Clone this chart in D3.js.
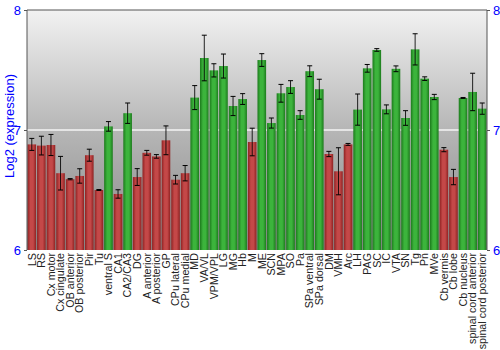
<!DOCTYPE html>
<html>
<head>
<meta charset="utf-8">
<script src="https://cdn.jsdelivr.net/npm/d3@7"></script>
<style>
  html, body { margin: 0; padding: 0; background: #fff; }
  svg { display: block; font-family: "Liberation Sans", Arial, sans-serif; }
</style>
</head>
<body>
<svg id="chart" width="500" height="350"></svg>
<script>
// Brain regions, mean log2 expression and error (± half-range)
const regions = ["LS", "RS", "Cx motor", "Cx cingulate", "OB anterior", "OB posterior", "Pir", "Tu",
  "ventral S", "CA1", "CA2/CA3", "DG", "A anterior", "A posterior", "GP", "CPu lateral", "CPu medial",
  "MD", "VA/VL", "VPM/VPL", "LG", "MG", "Hb", "M", "ME", "SCN", "MPA", "SO", "Pa", "SPa ventral",
  "SPa dorsal", "DM", "VMH", "Arc", "LH", "PAG", "SC", "IC", "VTA", "SN", "Tg", "Pn", "MVe",
  "Cb vermis", "Cb lobe", "Cb nucleus", "spinal cord anterior", "spinal cord posterior"];

const expression = [6.88, 6.87, 6.875, 6.64, 6.59, 6.617, 6.79, 6.50,
  7.03, 6.467, 7.14, 6.608, 6.81, 6.78, 6.914, 6.586, 6.64,
  7.27, 7.60, 7.497, 7.533, 7.20, 7.258, 6.90, 7.583, 7.058, 7.306, 7.358, 7.125, 7.49,
  7.34, 6.80, 6.656, 6.88, 7.17, 7.514, 7.667, 7.172, 7.51, 7.10, 7.672, 7.428, 7.275,
  6.836, 6.608, 7.267, 7.317, 7.178];

const errors = [0.05, 0.078, 0.088, 0.14, 0.005, 0.06, 0.05, 0.004,
  0.04, 0.035, 0.085, 0.07, 0.02, 0.015, 0.12, 0.036, 0.064,
  0.10, 0.19, 0.055, 0.10, 0.08, 0.045, 0.115, 0.053, 0.042, 0.074, 0.053, 0.036, 0.045,
  0.083, 0.022, 0.196, 0.008, 0.13, 0.032, 0.011, 0.037, 0.024, 0.061, 0.13, 0.015, 0.022,
  0.017, 0.064, 0.004, 0.156, 0.047];

const yTicks = [6, 7, 8];
const threshold = 7;

const svg = d3.select("#chart");
const mLeft = 27, mRight = 487, mTop = 10, mBottom = 250;

const x = d3.scaleBand().domain(regions).range([mLeft, mRight]).paddingInner(0.1).paddingOuter(0.05);
const y = d3.scaleLinear().domain([6, 8]).range([mBottom, mTop]);

const defs = svg.append("defs");
const bg = defs.append("linearGradient").attr("id", "bg").attr("x1", 0).attr("y1", 0).attr("x2", 0).attr("y2", 1);
bg.append("stop").attr("offset", "0%").attr("stop-color", "#f2f2f2");
bg.append("stop").attr("offset", "50%").attr("stop-color", "#b6b6b6");
bg.append("stop").attr("offset", "100%").attr("stop-color", "#888888");

function barGradient(id, dark, light) {
  const g = defs.append("linearGradient").attr("id", id).attr("x1", 0).attr("y1", 0).attr("x2", 1).attr("y2", 0);
  g.append("stop").attr("offset", "0%").attr("stop-color", dark);
  g.append("stop").attr("offset", "35%").attr("stop-color", light);
  g.append("stop").attr("offset", "65%").attr("stop-color", light);
  g.append("stop").attr("offset", "100%").attr("stop-color", dark);
}
barGradient("gRed", "#8e2222", "#c44848");
barGradient("gGreen", "#1c7a1c", "#3cb43c");

// plot background
svg.append("rect").attr("x", mLeft).attr("y", mTop).attr("width", mRight - mLeft).attr("height", mBottom - mTop)
  .attr("fill", "url(#bg)");

// reference line at 7
svg.append("line").attr("x1", mLeft).attr("x2", mRight).attr("y1", y(7)).attr("y2", y(7))
  .attr("stroke", "#f4f4f4").attr("stroke-width", 1.5);

// bars
const data = regions.map((r, i) => ({ r, v: expression[i], e: errors[i] }));
svg.append("g").selectAll("rect").data(data).join("rect")
  .attr("x", d => x(d.r))
  .attr("width", x.bandwidth())
  .attr("y", d => y(d.v))
  .attr("height", d => y(6) - y(d.v))
  .attr("fill", d => d.v >= threshold ? "url(#gGreen)" : "url(#gRed)");

// error bars
const eb = svg.append("g").attr("stroke", "#000").attr("stroke-width", 1);
data.forEach(d => {
  const cx = x(d.r) + x.bandwidth() / 2;
  const y1 = y(d.v + d.e), y2 = y(d.v - d.e);
  eb.append("line").attr("x1", cx).attr("x2", cx).attr("y1", y1).attr("y2", y2).attr("stroke-opacity", 0.85);
  eb.append("line").attr("x1", cx - 2.5).attr("x2", cx + 2.5).attr("y1", y1).attr("y2", y1);
  eb.append("line").attr("x1", cx - 2.5).attr("x2", cx + 2.5).attr("y1", y2).attr("y2", y2);
});

// frame
svg.append("path")
  .attr("d", `M${mLeft},${mBottom}V${mTop}H${mRight}V${mBottom}`)
  .attr("fill", "none").attr("stroke", "#555").attr("stroke-width", 1);

// y axes (left and right)
const yl = svg.append("g").attr("transform", `translate(${mLeft},0)`)
  .call(d3.axisLeft(y).tickValues(yTicks).tickFormat(d3.format("d")).tickSize(3));
const yr = svg.append("g").attr("transform", `translate(${mRight},0)`)
  .call(d3.axisRight(y).tickValues(yTicks).tickFormat(d3.format("d")).tickSize(3));
[yl, yr].forEach(g => {
  g.select(".domain").remove();
  g.selectAll("line").attr("stroke", "#555");
  g.selectAll("text").attr("fill", "#0000ff").attr("font-size", 13)
    .attr("font-family", "Liberation Sans, Arial, sans-serif");
});

// y title
svg.append("text").attr("transform", `translate(14,126) rotate(-90)`)
  .attr("text-anchor", "middle").attr("font-size", 13).attr("fill", "#0000ff")
  .text("Log2 (expression)");

// x labels
const xa = svg.append("g").attr("transform", `translate(0,${mBottom})`)
  .call(d3.axisBottom(x).tickSize(0).tickPadding(3));
xa.select(".domain").remove();
xa.selectAll("text")
  .attr("font-size", 10.7).attr("fill", "#222").attr("font-family", "Liberation Sans, Arial, sans-serif")
  .attr("text-anchor", "end")
  .attr("transform", "rotate(-90)")
  .attr("x", -3).attr("y", 0).attr("dy", "0.35em");
</script>
</body>
</html>
